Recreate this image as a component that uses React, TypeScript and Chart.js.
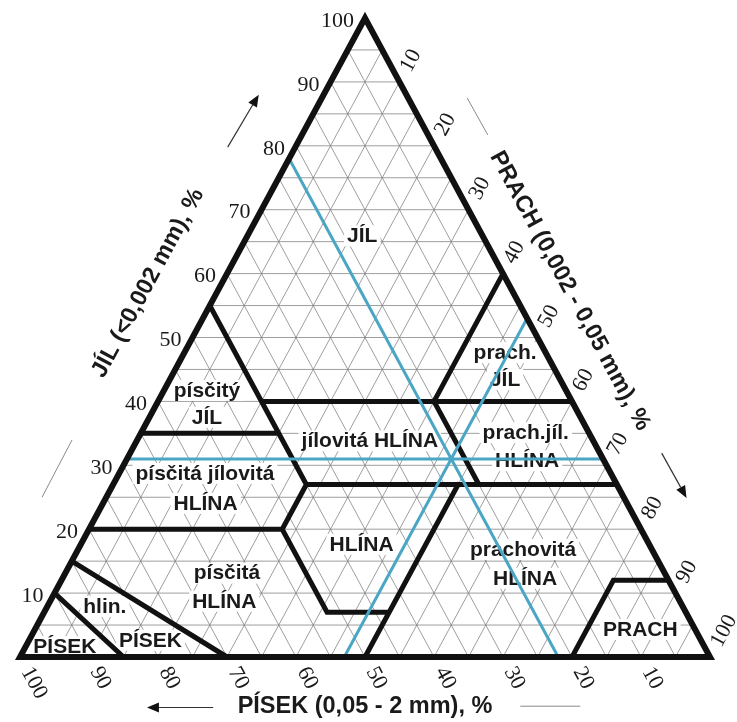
import React, { useEffect, useRef } from "react";
import { Chart, registerables } from "chart.js";

Chart.register(...registerables);

// Composition triples: [sand, silt, clay] in %
type Triple = [number, number, number];

// Example sample marked by the blue guide lines
const SAMPLE_SAND = 22;
const SAMPLE_SILT = 47;
const SAMPLE_CLAY = 31;

const GRID_STEPS = [5, 10, 15, 20, 25, 30, 35, 40, 45, 50, 55, 60, 65, 70, 75, 80, 85, 90, 95];
const CLAY_TICKS = [10, 20, 30, 40, 50, 60, 70, 80, 90, 100];
const SILT_TICKS = [10, 20, 30, 40, 50, 60, 70, 80, 90, 100];
const SAND_TICKS = [100, 90, 80, 70, 60, 50, 40, 30, 20, 10];

const TRIANGLE: Triple[] = [[100, 0, 0], [0, 100, 0], [0, 0, 100], [100, 0, 0], [0, 100, 0]];

// Texture class boundaries (USDA)
const CLASS_BOUNDARIES: Triple[][] = [
  [[90, 0, 10], [85, 15, 0]],
  [[85, 0, 15], [70, 30, 0]],
  [[80, 0, 20], [52, 28, 20]],
  [[45, 28, 27], [52, 28, 20], [52, 41, 7], [43, 50, 7], [50, 50, 0]],
  [[43, 50, 7], [23, 50, 27]],
  [[45, 28, 27], [0, 73, 27]],
  [[45, 28, 27], [45, 0, 55]],
  [[65, 0, 35], [45, 20, 35]],
  [[45, 15, 40], [0, 60, 40]],
  [[20, 53, 27], [20, 40, 40]],
  [[20, 40, 40], [0, 40, 60]],
  [[20, 80, 0], [8, 80, 12], [0, 88, 12]],
];

const CLASS_NAMES = [
  "JÍL", "prach.", "JÍL", "písčitý", "JÍL", "jílovitá HLÍNA", "prach.jíl.", "HLÍNA",
  "písčitá jílovitá", "HLÍNA", "HLÍNA", "písčitá", "HLÍNA", "prachovitá", "HLÍNA",
  "hlin.", "PÍSEK", "PÍSEK", "PRACH",
];
// label anchors in triangle units (x = silt + clay/2, y = clay)
const CLASS_LABEL_ANCHORS: [number, number][] = [
  [49.6, 66.0], [70.3, 47.7], [70.3, 43.5], [27.1, 41.8], [27.1, 37.6], [50.7, 33.9],
  [73.3, 35.2], [73.5, 30.8], [26.8, 28.8], [26.9, 24.1], [49.5, 17.7], [30.0, 13.2],
  [29.6, 8.8], [72.9, 16.9], [73.2, 12.4], [12.3, 8.0], [18.9, 2.7], [6.5, 1.7], [89.9, 4.4],
];

const TITLE_SAND = "PÍSEK (0,05 - 2 mm), %";
const TITLE_CLAY = "JÍL (<0,002 mm), %";
const TITLE_SILT = "PRACH (0,002 - 0,05 mm), %";

const toXY = ([sand, silt, clay]: Triple) => ({ x: silt + clay / 2, y: clay });

const joinLines = (lines: Triple[][]) => {
  const out: any[] = [];
  lines.forEach((l, i) => {
    if (i) out.push({ x: null, y: null });
    l.forEach((t) => out.push(toXY(t)));
  });
  return out;
};

const gridLines: Triple[][] = [];
GRID_STEPS.forEach((v) => {
  gridLines.push([[100 - v, 0, v], [0, 100 - v, v]]); // clay
  gridLines.push([[100 - v, v, 0], [0, v, 100 - v]]); // silt
  gridLines.push([[v, 100 - v, 0], [v, 0, 100 - v]]); // sand
});

const sampleLines: Triple[][] = [
  [[100 - SAMPLE_CLAY, 0, SAMPLE_CLAY], [0, 100 - SAMPLE_CLAY, SAMPLE_CLAY]],
  [[100 - SAMPLE_SILT, SAMPLE_SILT, 0], [0, SAMPLE_SILT, 100 - SAMPLE_SILT]],
  [[SAMPLE_SAND, 100 - SAMPLE_SAND, 0], [SAMPLE_SAND, 0, 100 - SAMPLE_SAND]],
];

const REGION_FONT = 'bold 21px "Liberation Sans", Arial, sans-serif';
const TICK_FONT = '22px "Liberation Serif", "Times New Roman", serif';
const TITLE_FONT = 'bold 23.5px "Liberation Sans", Arial, sans-serif';
const INK = "#1a1a1a";

const soilPlugin = {
  id: "soilText",
  afterDatasetDraw(chart: any, args: any) {
    if (args.index !== 0) return;
    const ctx = chart.ctx;
    const xs = chart.scales.x;
    const ys = chart.scales.y;
    ctx.save();
    ctx.font = REGION_FONT;
    ctx.textAlign = "center";
    ctx.textBaseline = "middle";
    CLASS_NAMES.forEach((name, i) => {
      const [x, y] = CLASS_LABEL_ANCHORS[i];
      const X = xs.getPixelForValue(x);
      const Y = ys.getPixelForValue(y);
      const w = ctx.measureText(name).width;
      ctx.fillStyle = "#ffffff";
      ctx.fillRect(X - w / 2 - 3, Y - 10, w + 6, 21);
      ctx.fillStyle = INK;
      ctx.fillText(name, X, Y + 1);
    });
    ctx.restore();
  },
  afterDraw(chart: any) {
    const ctx = chart.ctx;
    const xs = chart.scales.x;
    const ys = chart.scales.y;
    const P = (x: number, y: number) => ({ x: xs.getPixelForValue(x), y: ys.getPixelForValue(y) });
    const T = (t: Triple) => { const q = toXY(t); return P(q.x, q.y); };
    const A = T([100, 0, 0]);
    const B = T([0, 100, 0]);
    const C = T([0, 0, 100]);
    const unit = (p: any, q: any) => { const dx = q.x - p.x, dy = q.y - p.y, l = Math.hypot(dx, dy); return { x: dx / l, y: dy / l }; };
    const dRight = unit(C, B); // down-right
    const dLeft = unit(A, C); // up-right
    const angR = Math.atan2(dRight.y, dRight.x);
    const angL = Math.atan2(dLeft.y, dLeft.x);

    ctx.save();
    ctx.fillStyle = INK;
    ctx.font = TICK_FONT;
    ctx.textBaseline = "middle";
    ctx.textAlign = "right";
    CLAY_TICKS.forEach((c) => {
      const p = T([100 - c, 0, c]);
      ctx.fillText(String(c), p.x - 11, p.y + 3);
    });
    ctx.textAlign = "left";
    SAND_TICKS.forEach((s) => {
      const p = T([s, 100 - s, 0]);
      ctx.save();
      ctx.translate(p.x + dRight.x * 13, p.y + dRight.y * 13);
      ctx.rotate(angR);
      ctx.fillText(String(s), 0, 0);
      ctx.restore();
    });
    SILT_TICKS.forEach((s) => {
      const p = T([0, s, 100 - s]);
      ctx.save();
      ctx.translate(p.x + dLeft.x * 13, p.y + dLeft.y * 13);
      ctx.rotate(angL);
      ctx.fillText(String(s), 0, 0);
      ctx.restore();
    });

    // axis titles
    ctx.font = TITLE_FONT;
    ctx.textAlign = "center";
    const tb = P(50, -7.7);
    ctx.fillText(TITLE_SAND, tb.x, tb.y);
    const tl = P(18.55, 58.5);
    ctx.save();
    ctx.translate(tl.x, tl.y);
    ctx.rotate(angL);
    ctx.fillText(TITLE_CLAY, 0, 0);
    ctx.restore();
    const tr = P(79.7, 57.3);
    ctx.save();
    ctx.translate(tr.x, tr.y);
    ctx.rotate(angR);
    ctx.fillText(TITLE_SILT, 0, 0);
    ctx.restore();

    // decorative rules & arrows
    const rule = (a: [number, number], b: [number, number]) => {
      const p = P(a[0], a[1]), q = P(b[0], b[1]);
      ctx.strokeStyle = "#8a8a8a";
      ctx.lineWidth = 1;
      ctx.beginPath();
      ctx.moveTo(p.x, p.y);
      ctx.lineTo(q.x, q.y);
      ctx.stroke();
    };
    const arrow = (a: [number, number], b: [number, number]) => {
      const p = P(a[0], a[1]), q = P(b[0], b[1]);
      const d = unit(p, q);
      const hl = 12, hw = 5;
      const bx = q.x - d.x * hl, by = q.y - d.y * hl;
      ctx.strokeStyle = "#333";
      ctx.lineWidth = 1.2;
      ctx.beginPath();
      ctx.moveTo(p.x, p.y);
      ctx.lineTo(bx, by);
      ctx.stroke();
      ctx.fillStyle = "#111";
      ctx.beginPath();
      ctx.moveTo(q.x, q.y);
      ctx.lineTo(bx - d.y * hw, by + d.x * hw);
      ctx.lineTo(bx + d.y * hw, by - d.x * hw);
      ctx.closePath();
      ctx.fill();
    };
    rule([3.19, 25.0], [7.54, 33.96]);
    arrow([30.1, 79.8], [34.6, 88.0]);
    rule([64.8, 87.5], [67.8, 81.7]);
    arrow([93.0, 31.9], [96.6, 24.9]);
    arrow([28.0, -7.9], [18.4, -7.9]);
    rule([72.5, -7.7], [81.2, -7.7]);
    ctx.restore();
  },
};

export default function App() {
  const ref = useRef<HTMLCanvasElement | null>(null);
  useEffect(() => {
    if (!ref.current) return;
    const chart = new Chart(ref.current, {
      type: "scatter",
      data: {
        datasets: [
          {
            label: "grid",
            data: joinLines(gridLines),
            showLine: true,
            borderColor: "rgba(125,125,125,0.75)",
            borderWidth: 1,
            pointRadius: 0,
            order: 10,
            clip: false,
          } as any,
          {
            label: "boundaries",
            data: joinLines(CLASS_BOUNDARIES),
            showLine: true,
            borderColor: "#111111",
            borderWidth: 5,
            borderJoinStyle: "miter",
            borderCapStyle: "round",
            pointRadius: 0,
            order: 5,
            clip: false,
          } as any,
          {
            label: "sample",
            data: joinLines(sampleLines),
            showLine: true,
            borderColor: "#4aa6c4",
            borderWidth: 3,
            pointRadius: 0,
            order: 2,
            clip: false,
          } as any,
          {
            label: "triangle",
            data: joinLines([TRIANGLE]),
            showLine: true,
            borderColor: "#111111",
            borderWidth: 6,
            borderJoinStyle: "miter",
            pointRadius: 0,
            order: 1,
            clip: false,
          } as any,
        ],
      },
      options: {
        responsive: false,
        animation: false,
        devicePixelRatio: 1,
        events: [],
        layout: { padding: { left: 20, right: 27, top: 18, bottom: 65 } },
        scales: {
          x: { type: "linear", min: 0, max: 100, display: false },
          y: { type: "linear", min: 0, max: 100, display: false },
        },
        plugins: {
          legend: { display: false },
          tooltip: { enabled: false },
        },
      },
      plugins: [soilPlugin as any],
    });
    return () => chart.destroy();
  }, []);
  return (
    <div style={{ position: "absolute", left: 0, top: 0, width: 737, height: 722, background: "#fff" }}>
      <canvas ref={ref} width={737} height={722} style={{ display: "block" }} />
    </div>
  );
}
